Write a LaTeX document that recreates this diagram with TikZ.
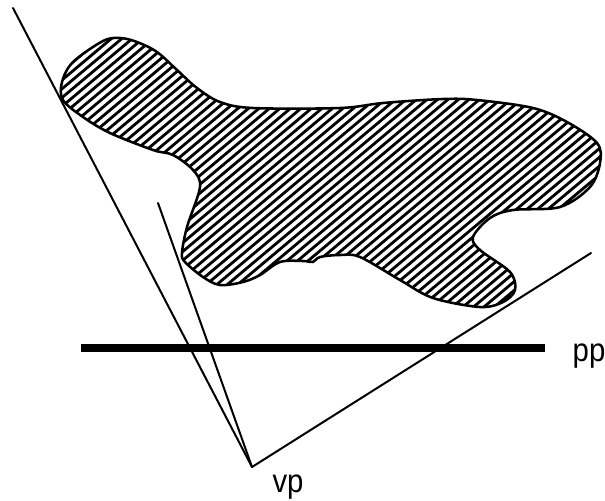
\documentclass[tikz,border=0pt]{standalone}
\usepackage{fontspec}
\setmainfont{Liberation Sans}
\tikzset{
  ray/.style={draw=black,line width=1.5pt,line cap=round},
  plane/.style={draw=black,line width=6pt},
  blobline/.style={draw=black,line width=1.9pt,line join=round},
  hatchline/.style={draw=black,line width=2.1pt},
  lab/.style={font=\fontsize{22}{24}\selectfont,inner sep=0pt}
}
\begin{document}
\begin{tikzpicture}[x=0.75pt,y=-0.75pt]
\useasboundingbox (0,0) rectangle (605,500);
\def\blob{plot[smooth cycle,tension=0.55] coordinates {
 (63,100)(62,82)(73,62)(103,41)(120,38)(137,42)(157,52)(177,70)(197,88)(220,102)(253,108)(340,108)(383,103)(443,99)(477,100)(533,108)(567,122)(597,143)(600,163)(590,187)(560,207)(513,210)(490,218)(473,237)(480,250)(510,272)(515,290)(503,302)(480,307)(433,298)(400,280)(360,257)(340,255)(320,257)(313,262)(303,261)(280,262)(260,275)(243,282)(220,285)(203,277)(185,262)(182,253)(187,227)(200,187)(193,170)(173,155)(153,150)(110,133)(83,117)}}
\begin{scope}
  \clip \blob;
  \foreach \i in {-60,...,130}{
    \draw[hatchline] (0,{\i*8.8}) -- (620,{\i*8.8-520});
  }
\end{scope}
\draw[blobline] \blob;
\coordinate (vp) at (252,467);
\coordinate (a) at (13,8);
\coordinate (b) at (158,203);
\coordinate (c) at (591,253);
\coordinate (ppl) at (81,348);
\coordinate (ppr) at (545,348);
\draw[ray] (a) -- (vp);
\draw[ray] (b) -- (vp);
\draw[ray] (c) -- (vp);
\draw[plane] (ppl) -- (ppr);
\node[lab] (pplabel) at (589,356) {\scalebox{1}[1.12]{pp}};
\node[lab] (vplabel) at (288,487) {\scalebox{1}[1.12]{vp}};
\end{tikzpicture}
\end{document}
